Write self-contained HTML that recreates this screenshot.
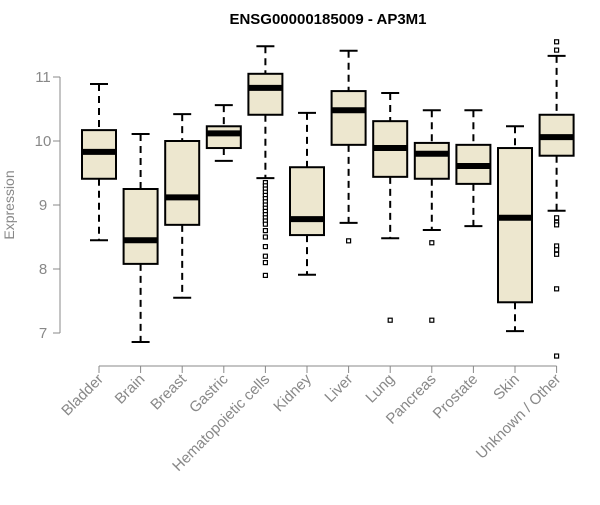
<!DOCTYPE html>
<html><head><meta charset="utf-8"><style>body{margin:0;background:#fff}svg{font-family:"Liberation Sans",sans-serif}</style></head>
<body>
<svg id="c" width="600" height="500">
<text x="328" y="24" text-anchor="middle" font-weight="bold" font-size="15">ENSG00000185009 - AP3M1</text>
<text transform="translate(14,205) rotate(-90)" text-anchor="middle" font-size="14" fill="#888">Expression</text>
</svg>
<script>
const categories=["Bladder","Brain","Breast","Gastric","Hematopoietic cells","Kidney","Liver","Lung","Pancreas","Prostate","Skin","Unknown / Other"];
const whiskLo=[8.45,6.86,7.55,9.69,9.42,7.91,8.72,8.48,8.61,8.67,7.03,8.91];
const q1=[9.41,8.08,8.69,9.89,10.41,8.53,9.94,9.44,9.41,9.33,7.48,9.77];
const med=[9.83,8.45,9.12,10.12,10.83,8.78,10.48,9.89,9.8,9.61,8.8,10.06];
const q3=[10.17,9.25,10.0,10.23,11.05,9.59,10.78,10.31,9.97,9.94,9.89,10.41];
const whiskHi=[10.89,10.11,10.42,10.56,11.48,10.44,11.41,10.75,10.48,10.48,10.23,11.33];
const outliers=[[],[],[],[],[9.35,9.3,9.25,9.2,9.15,9.1,9.05,9.0,8.95,8.9,8.85,8.8,8.75,8.7,8.6,8.5,8.35,8.2,8.1,7.9],[],[8.44],[7.2],[8.41,7.2],[],[],[11.55,11.42,8.8,8.73,8.69,8.36,8.3,8.23,7.69,6.64]];
const yTicks=[7,8,9,10,11];
const NS="http://www.w3.org/2000/svg",svg=document.getElementById('c');
const y=v=>333-(v-7)*64, x=i=>99+i*41.6;
function mk(t,a,p){const e=document.createElementNS(NS,t);for(const k in a)e.setAttribute(k,a[k]);(p||svg).appendChild(e);return e;}
let ax=mk('line',{x1:60,x2:60,y1:y(7),y2:y(11),stroke:'#888'});


yTicks.forEach(t=>{
 let l=mk('line',{x1:53,x2:60,y1:y(t),y2:y(t),stroke:'#888'});
 
 
 let tx=mk('text',{x:43,y:y(t)+5,'text-anchor':'middle','font-size':15,fill:'#888'});tx.textContent=t;
 
 
});
let xa=mk('line',{x1:x(0),x2:x(11),y1:366,y2:366,stroke:'#888'});


categories.forEach((c,i)=>{
 const cx=x(i),w=17;
 let g=mk('g',{});
 
 
 mk('line',{x1:cx,x2:cx,y1:y(whiskHi[i]),y2:y(q3[i]),stroke:'#000','stroke-width':2,'stroke-dasharray':'7,5'},g);
 mk('line',{x1:cx,x2:cx,y1:y(q1[i]),y2:y(whiskLo[i]),stroke:'#000','stroke-width':2,'stroke-dasharray':'7,5'},g);
 mk('line',{x1:cx-9,x2:cx+9,y1:y(whiskHi[i]),y2:y(whiskHi[i]),stroke:'#000','stroke-width':2},g);
 mk('line',{x1:cx-9,x2:cx+9,y1:y(whiskLo[i]),y2:y(whiskLo[i]),stroke:'#000','stroke-width':2},g);
 mk('rect',{x:cx-w,y:y(q3[i]),width:2*w,height:y(q1[i])-y(q3[i]),fill:'#ede7cf',stroke:'#000','stroke-width':2},g);
 mk('line',{x1:cx-w,x2:cx+w,y1:y(med[i]),y2:y(med[i]),stroke:'#000','stroke-width':6},g);
 outliers[i].forEach(o=>mk('rect',{x:cx-2,y:y(o)-2,width:4,height:4,fill:'#fff',stroke:'#000','stroke-width':1.2},g));
 let tk=mk('line',{x1:cx,x2:cx,y1:366,y2:373,stroke:'#888'});
 
 
 let t=mk('text',{x:cx+5,y:380,'text-anchor':'end','font-size':15,fill:'#888',transform:`rotate(-45 ${cx+5} 380)`});t.textContent=c;
 
 
});
</script>
</body></html>
